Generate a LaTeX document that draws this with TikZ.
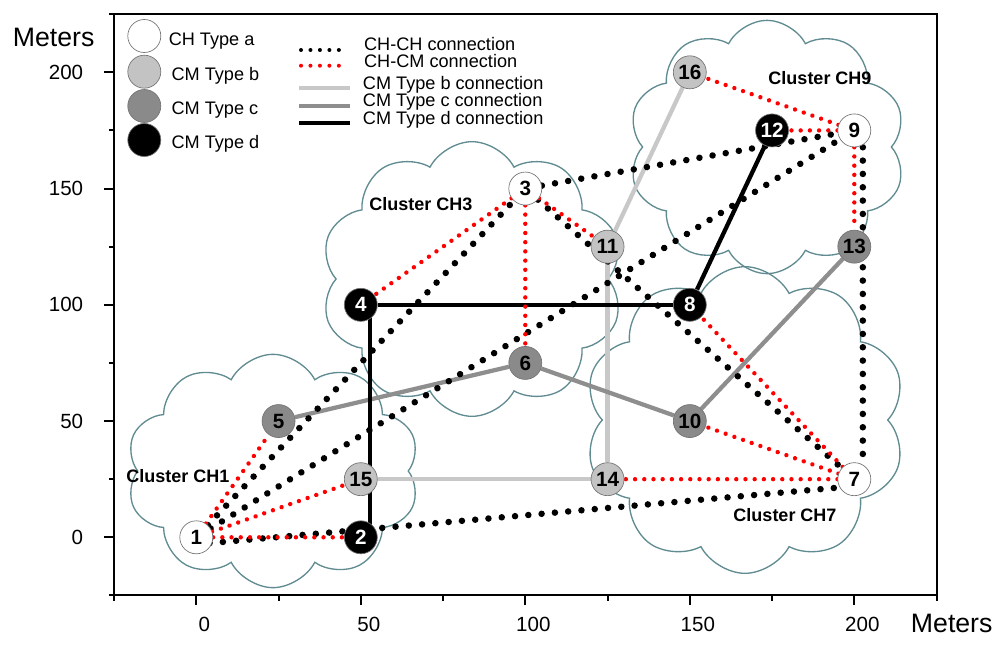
\documentclass[tikz,border=0pt]{standalone}
\usepackage{fontspec}
\setmainfont{Liberation Sans}
\usetikzlibrary{shapes.symbols,backgrounds,decorations.markings}
\definecolor{cloudc}{HTML}{5F8B91}
\definecolor{nb}{HTML}{C3C3C3}
\definecolor{nc}{HTML}{8A8A8A}
\definecolor{lbc}{HTML}{C8C8C8}
\definecolor{lcc}{HTML}{8E8E8E}
\begin{document}
\begin{tikzpicture}[x=0.75pt,y=-0.75pt,
  every node/.style={inner sep=0pt},
  nd/.style={circle, draw=black!55, line width=0.5pt, minimum size=24.75pt, font=\bfseries\fontsize{15.5}{15.5}\selectfont},
  ta/.style={nd, fill=white},
  tb/.style={nd, fill=nb},
  tc/.style={nd, fill=nc},
  td/.style={nd, fill=black, text=white},
  dots/.style n args={3}{decoration={markings, mark=between positions 0 and 1 step #2 with {\fill[#1] (0pt,0pt) circle (#3);}}, decorate},
  chch/.style={dots={black}{10pt}{2.45pt}},
  chcm/.style={dots={red}{6.9pt}{1.65pt}},
  legdotk/.style={dots={black}{7.1pt}{1.5pt}},
  legdotr/.style={dots={red}{7.1pt}{1.5pt}},
  lnb/.style={lbc, line width=3.2pt},
  lnc/.style={lcc, line width=3.2pt},
  lnd/.style={black, line width=3.2pt},
  clo/.style={cloud, draw=cloudc, line width=1pt, cloud puffs=10, cloud puff arc=125, cloud ignores aspect},
  clab/.style={font=\bfseries\fontsize{13.5}{13.5}\selectfont},
  leg/.style={font=\fontsize{13.6}{13.6}\selectfont, anchor=base west},
  ticklab/.style={font=\fontsize{15.4}{15.4}\selectfont},
  axlab/.style={font=\fontsize{20}{20}\selectfont},
  axis/.style={black, line width=1.5pt},
]
\useasboundingbox (0,0) rectangle (1000,647);

% clouds
\begin{scope}[on background layer]
\node[clo, minimum width=220pt, minimum height=175pt] (cl1) at (273,471) {};
\node[clo, minimum width=227pt, minimum height=206pt] (cl3) at (472,279) {};
\node[clo, minimum width=208pt, minimum height=190pt] (cl9) at (767,147) {};
\node[clo, minimum width=241pt, minimum height=230pt] (cl7) at (745,420) {};
\end{scope}

\node[clab] (lab1) at (178,476) {Cluster CH1};
\node[clab] (lab3) at (421,204) {Cluster CH3};
\node[clab] (lab9) at (820,78) {Cluster CH9};
\node[clab] (lab7) at (785,515) {Cluster CH7};

% data scope in meters
\begin{scope}[shift={(147.225pt,-402.975pt)}, x=2.4675pt, y=1.74375pt]
\draw[axis] (-25,-25) rectangle (225,225);
\foreach \v in {0,50,...,200} {
  \draw[axis] (\v,-25) -- ++(0pt,-7.5pt);
  \draw[axis] (-25,\v) -- ++(-7.5pt,0pt);
  \node[ticklab] (xl\v) at ([shift={(6pt,-21.5pt)}]\v,-25) {\v};
  \node[ticklab, anchor=east] (yl\v) at ([xshift=-23pt]-25,\v) {\v};
}
\foreach \v in {-25,25,...,225} {
  \draw[axis] (\v,-25) -- ++(0pt,-4pt);
  \draw[axis] (-25,\v) -- ++(-4pt,0pt);
}

\node[ta] (n1) at (0,0) {1};
\node[td] (n2) at (50,0) {2};
\node[ta] (n3) at (100,150) {3};
\node[td] (n4) at (50,100) {4};
\node[tc] (n5) at (25,50) {5};
\node[tc] (n6) at (100,75) {6};
\node[ta] (n7) at (200,25) {7};
\node[td] (n8) at (150,100) {8};
\node[ta] (n9) at (200,175) {9};
\node[tc] (n10) at (150,50) {10};
\node[tb] (n11) at (125,125) {11};
\node[td] (n12) at (175,175) {12};
\node[tc] (n13) at (200,125) {13};
\node[tb] (n14) at (125,25) {14};
\node[tb] (n15) at (50,25) {15};
\node[tb] (n16) at (150,200) {16};
\end{scope}

\begin{scope}[on background layer]
% solid connections
\draw[lnb] (n15) -- (n14);
\draw[lnb] (n14) -- (n11);
\draw[lnb] (n11) -- (n16);
\draw[lnc] (n5) -- (n6);
\draw[lnc] (n6) -- (n10);
\draw[lnc] (n10) -- (n13);
\draw[lnd] ([xshift=6.75pt]n2.center) -- ([xshift=6.75pt]n4.center);
\draw[lnd] (n4) -- (n8);
\draw[lnd] (n8) -- (n12);
% CH-CH
\path[chch] ([yshift=-5.25pt]n1.center) -- ([yshift=-5.25pt]n7.center);
\path[chch] (n1) -- (n3);
\path[chch] (n1) -- (n9);
\path[chch] (n3) -- (n9);
\path[chch] (n3) -- (n7);
\path[chch] ([xshift=6.4pt]n9.south) -- ([xshift=6.4pt]n7.north);
% CH-CM
\path[chcm] (n1) -- (n5);
\path[chcm] (n1) -- (n15);
\path[chcm] (n1) -- (n2);
\path[chcm] (n3) -- (n4);
\path[chcm] (n3) -- (n6);
\path[chcm] (n3) -- (n11);
\path[chcm] (n9) -- (n16);
\path[chcm] (n9) -- (n12);
\path[chcm] (n9) -- (n13);
\path[chcm] (n7) -- (n8);
\path[chcm] (n7) -- (n10);
\path[chcm] (n7) -- (n14);
\end{scope}

% axis titles
\node[axlab] (ym) at (53.6,37.5) {Meters};
\node[axlab] (xm) at (951.7,623.7) {Meters};

% legend: node types
\node[ta] (lga) at (144.3,36) {};
\node[tb] (lgb) at (144.3,71.7) {};
\node[tc] (lgc) at (144.3,106) {};
\node[td] (lgd) at (144.3,140) {};
\node[leg] (lta) at (168.5,45) {CH Type a};
\node[leg] (ltb) at (171.3,80) {CM Type b};
\node[leg] (ltc) at (171.3,114) {CM Type c};
\node[leg] (ltd) at (171.3,148) {CM Type d};

% legend: connections
\coordinate (k1a) at (301,50);   \coordinate (k1b) at (348,50);
\coordinate (k2a) at (301,65.7); \coordinate (k2b) at (348,65.7);
\coordinate (k3a) at (299,88.3); \coordinate (k3b) at (349.5,88.3);
\coordinate (k4a) at (299,106);  \coordinate (k4b) at (349.5,106);
\coordinate (k5a) at (299,122.7);\coordinate (k5b) at (349.5,122.7);
\path[legdotk] (k1a) -- (k1b);
\path[legdotr] (k2a) -- (k2b);
\draw[lnb] (k3a) -- (k3b);
\draw[lnc] (k4a) -- (k4b);
\draw[lnd] (k5a) -- (k5b);
\node[leg] (lt1) at (363.8,50.7) {CH-CH connection};
\node[leg] (lt2) at (363.8,67.7) {CH-CM connection};
\node[leg] (lt3) at (362.7,89.3) {CM Type b connection};
\node[leg] (lt4) at (362.7,106.7) {CM Type c connection};
\node[leg] (lt5) at (362.7,124) {CM Type d connection};
\end{tikzpicture}
\end{document}
